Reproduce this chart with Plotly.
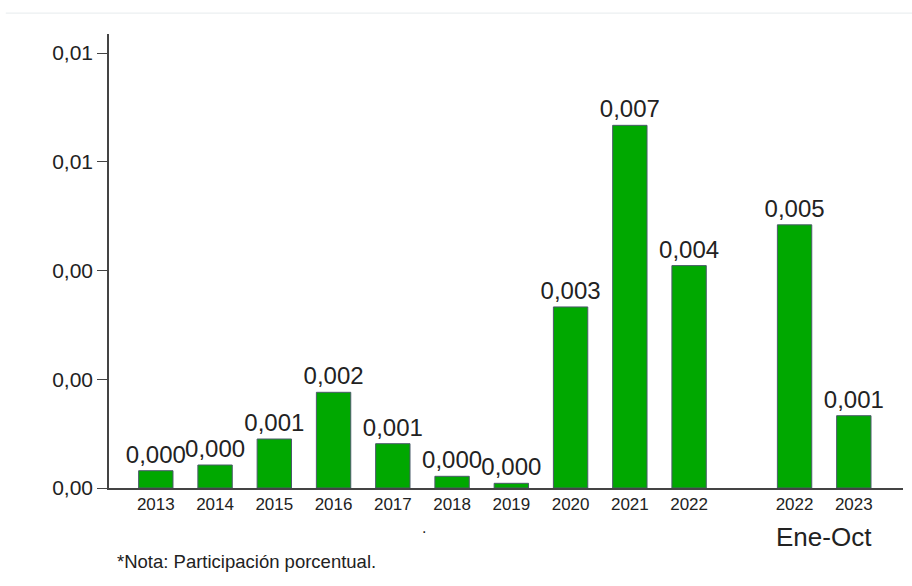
import plotly.graph_objects as go

years = ["2013", "2014", "2015", "2016", "2017", "2018", "2019", "2020", "2021", "2022", "2022", "2023"]
values = [0.000318, 0.000423, 0.000901, 0.00176, 0.000815, 0.000215, 0.000086,
          0.00333, 0.00667, 0.00409, 0.00484, 0.00133]
period_label = "Ene-Oct"
note = "*Nota: Participación porcentual."
y_ticks = [0, 0.002, 0.004, 0.006, 0.008]

# layout: annual bars at consecutive slots, the Ene-Oct group after a gap
n_annual = 10
gap = 0.78
xpos = [i + (gap if i >= n_annual else 0) for i in range(len(years))]

FONT = "Liberation Sans, Arial, sans-serif"

fig = go.Figure(go.Bar(
    x=xpos, y=values,
    width=0.58,
    marker=dict(color="#00A800", line=dict(color="#4a5a6a", width=1)),
    texttemplate="%{y:.3f}",
    textposition="outside",
    constraintext="none",
    textfont=dict(size=24, color="#222222", family=FONT),
    cliponaxis=False,
))

fig.update_layout(
    width=912, height=586,
    margin=dict(l=109, r=9, t=34, b=98),
    plot_bgcolor="white", paper_bgcolor="white",
    separators=",.",
    showlegend=False,
    font=dict(family=FONT, color="#222222"),
    xaxis=dict(
        range=[-0.79, xpos[-1] + 0.83],
        tickmode="array", tickvals=xpos, ticktext=years,
        showgrid=False, zeroline=False,
        showline=True, linecolor="#444444", linewidth=1.5,
        ticks="", tickfont=dict(size=17, color="#222222"),
    ),
    yaxis=dict(
        range=[0, 0.00835],
        tickmode="array", tickvals=y_ticks, tickformat=".2f",
        showgrid=False, zeroline=False,
        showline=True, linecolor="#444444", linewidth=1.5,
        ticks="outside", ticklen=10, tickcolor="#444444",
        tickfont=dict(size=21, color="#222222"),
    ),
    shapes=[dict(type="line", xref="paper", yref="paper",
                 x0=-0.13, x1=1.02, y0=1.046, y1=1.046,
                 line=dict(color="#e6ebee", width=1))],
    annotations=[
        dict(text=period_label, xref="x", yref="paper",
             x=(xpos[-2] + xpos[-1]) / 2, y=-0.108, showarrow=False,
             font=dict(size=26, color="#222222"), yanchor="middle"),
        dict(text=note, xref="paper", yref="paper", x=0.0076, y=-0.161,
             xanchor="left", yanchor="middle", showarrow=False,
             font=dict(size=18.5, color="#222222")),
        dict(text=".", xref="paper", yref="paper", x=0.397, y=-0.11,
             showarrow=False, font=dict(size=16, color="#222222")),
    ],
)

fig.write_html("out.html", config={"displayModeBar": False},
               post_script="document.body.style.margin='0';document.body.style.overflow='hidden';")
